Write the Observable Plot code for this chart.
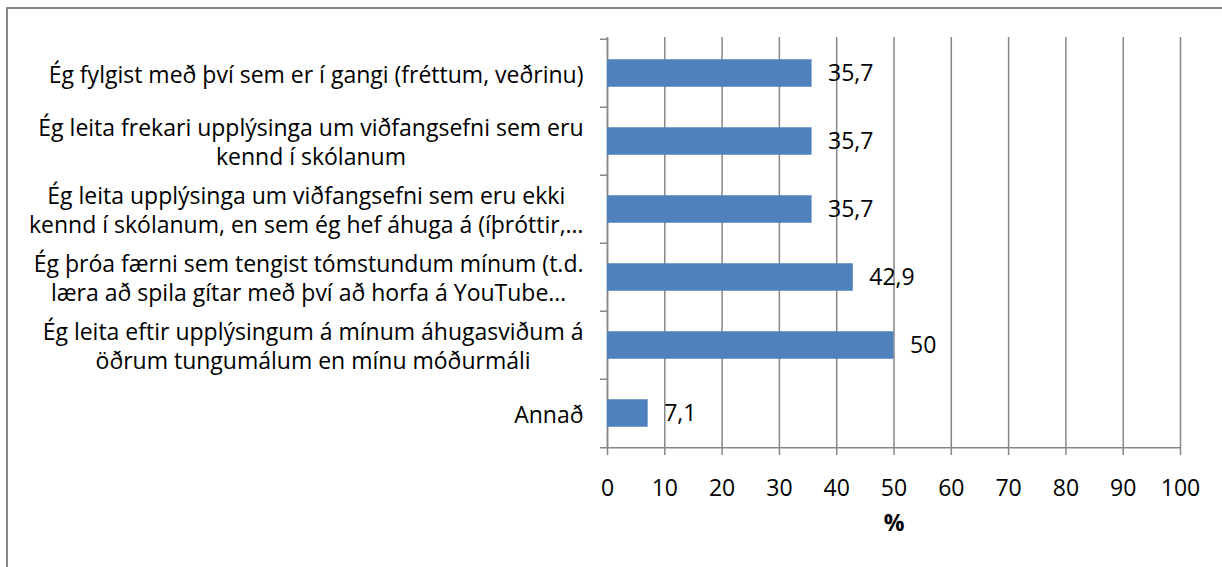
<!DOCTYPE html>
<html>
<head>
<meta charset="utf-8">
<script src="https://cdn.jsdelivr.net/npm/d3@7"></script>
<script src="https://cdn.jsdelivr.net/npm/@observablehq/plot@0.6"></script>
<style>
  html, body { margin: 0; padding: 0; background: #fff; }
  #wrap { position: relative; width: 1222px; height: 567px; overflow: hidden; background: #fff; }
  #border { position: absolute; left: 6px; top: 7px; right: -10px; bottom: -10px;
            border-top: 2px solid #878787; border-left: 2px solid #878787; pointer-events: none; }
  #wrap svg { position: absolute; left: 0; top: 0; }
  g[aria-label="x-axis label"] text { font-weight: bold; }
</style>
</head>
<body>
<div id="wrap"><div id="border"></div></div>
<script>
const categories = [
  "Ég fylgist með því sem er í gangi (fréttum, veðrinu)",
  "Ég leita frekari upplýsinga um viðfangsefni sem eru\nkennd í skólanum",
  "Ég leita upplýsinga um viðfangsefni sem eru ekki\nkennd í skólanum, en sem ég hef áhuga á (íþróttir,…",
  "Ég þróa færni sem tengist tómstundum mínum (t.d.\nlæra að spila gítar með því að horfa á YouTube…",
  "Ég leita eftir upplýsingum á mínum áhugasviðum á\nöðrum tungumálum en mínu móðurmáli",
  "Annað"
];
const values = [35.7, 35.7, 35.7, 42.9, 50, 7.1];
const xTicks = [0, 10, 20, 30, 40, 50, 60, 70, 80, 90, 100];
const xLabel = "%";

const data = categories.map((c, i) => ({category: c, value: values[i]}));

const W = 1222, H = 567;
const mTop = 37, mBottom = 119, mLeft = 607, mRight = 42;
const step = (H - mTop - mBottom) / categories.length;
const barH = 28;
const inset = (step - barH) / 2;
const gridColor = "#878787";
const FS = 23;
const fmt = v => String(v).replace(".", ",");

const chart = Plot.plot({
  width: W, height: H,
  marginTop: mTop, marginBottom: mBottom, marginLeft: mLeft, marginRight: mRight,
  style: {fontFamily: "'Open Sans', sans-serif", fontSize: FS + "px", color: "#000", background: "transparent"},
  x: {domain: [0, 100], ticks: xTicks, label: xLabel},
  y: {domain: categories, padding: 0, axis: null},
  marks: [
    Plot.gridX(xTicks, {stroke: gridColor, strokeOpacity: 1, strokeWidth: 1.5}),
    Plot.ruleX([0], {stroke: gridColor, strokeWidth: 1.5}),
    Plot.ruleY(categories, {y: d => d, x1: 0, x2: 0, insetLeft: -7, dy: -step / 2, stroke: gridColor, strokeWidth: 1.5}),
    Plot.ruleY([categories[categories.length - 1]], {y: d => d, insetLeft: -7, dy: step / 2, stroke: gridColor, strokeWidth: 1.5}),
    Plot.axisX(xTicks, {tickSize: 7, tickPadding: 24, fontSize: FS, stroke: gridColor, strokeWidth: 1.5, strokeOpacity: 1,
      tickFormat: d => String(d), fill: "#000", label: xLabel, labelAnchor: "center", labelArrow: "none", labelOffset: 82}),
    Plot.barX(data, {y: "category", x: "value", fill: "#4F81BD", insetTop: inset, insetBottom: inset}),
    Plot.text(data, {y: "category", x: "value", text: d => fmt(d.value), textAnchor: "start", dx: 16, fill: "#000", fontSize: FS}),
    Plot.text(data, {y: "category", x: 0, text: "category", textAnchor: "end", dx: -24, lineAnchor: "middle", lineHeight: 1.26, fill: "#000", fontSize: FS})
  ]
});

const wrap = document.getElementById("wrap");
wrap.insertBefore(chart, wrap.firstChild);

// center the lines of each multi-line category label inside its right-aligned block
chart.querySelectorAll("text").forEach(t => {
  const spans = t.querySelectorAll("tspan");
  if (spans.length < 2) return;
  let maxW = 0;
  spans.forEach(s => { maxW = Math.max(maxW, s.getComputedTextLength()); });
  t.setAttribute("text-anchor", "middle");
  spans.forEach(s => s.setAttribute("x", -maxW / 2));
});
</script>
</body>
</html>
